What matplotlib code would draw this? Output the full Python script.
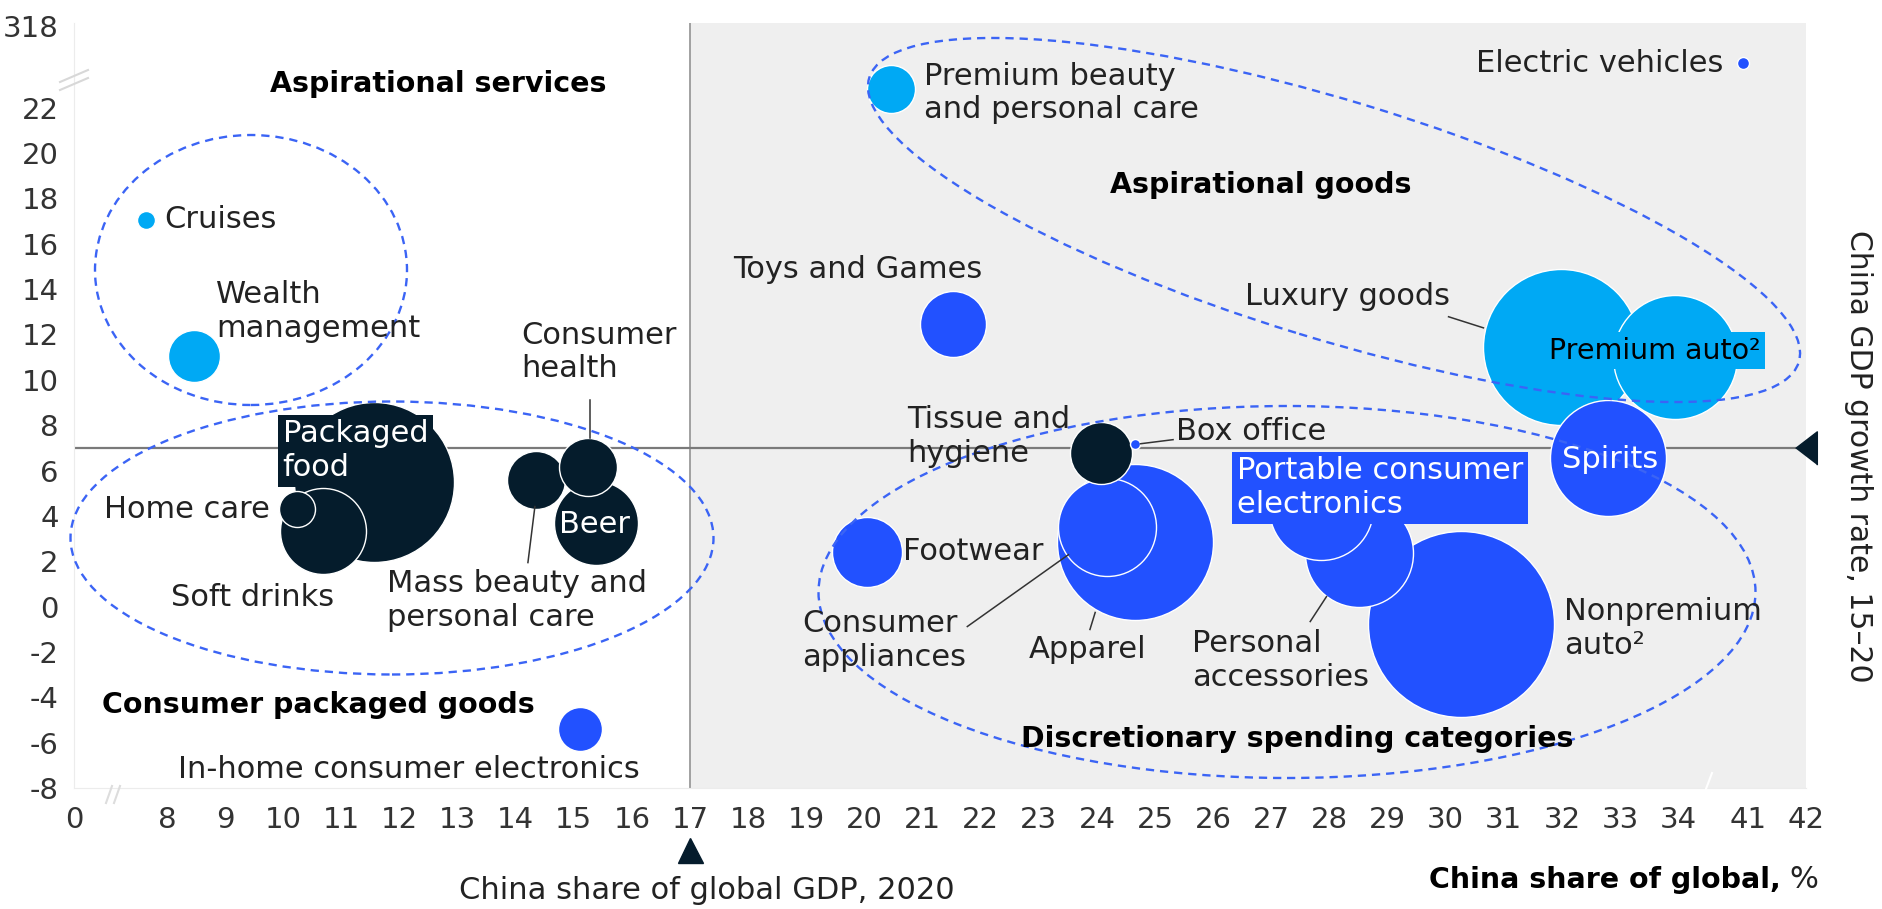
import matplotlib
matplotlib.use("Agg")
import matplotlib.pyplot as plt
import numpy as np
from matplotlib import transforms
from matplotlib.patches import Ellipse

NAVY, BLUE, CYAN = "#051c2c", "#2251ff", "#00a9f4"
TXT = "#222222"

# --- data (drawn in this order; later bubbles sit on top) ---
categories = ["Packaged food", "Soft drinks", "Home care", "Mass beauty and personal care",
              "Beer", "Consumer health", "Cruises", "Wealth management",
              "In-home consumer electronics", "Premium beauty and personal care",
              "Electric vehicles", "Toys and Games", "Luxury goods", "Premium auto",
              "Spirits", "Apparel", "Consumer appliances", "Tissue and hygiene",
              "Box office", "Footwear", "Nonpremium auto", "Personal accessories",
              "Portable consumer electronics"]
china_share = [11.56, 10.68, 10.24, 14.35, 15.38, 15.24, 7.64, 8.46, 15.11, 20.46,
               40.5, 21.53, 31.99, 33.94, 32.80, 24.66, 24.18, 24.07, 24.66, 20.05,
               30.27, 28.51, 27.86]
gdp_growth = [5.51, 3.35, 4.32, 5.59, 3.70, 6.17, 17.05, 11.06, -5.42, 22.82,
              108, 12.47, 11.45, 11.01, 6.56, 2.86, 3.52, 6.78, 7.18, 2.42,
              -0.79, 2.38, 4.36]
market_size = [80, 43, 18, 29, 42, 29, 9, 26, 22, 24, 6, 33, 78, 62, 58, 78, 49, 31,
               5, 35, 93, 54, 52]
segment = ["cpg", "cpg", "cpg", "cpg", "cpg", "cpg", "asp", "asp", "disc", "asp",
           "disc", "disc", "asp", "asp", "disc", "disc", "disc", "cpg", "disc", "disc",
           "disc", "disc", "disc"]
seg_color = {"cpg": NAVY, "asp": CYAN, "disc": BLUE}

xticks = [0] + list(range(8, 35)) + [41, 42]
yticks = list(range(-8, 23, 2)) + [318]
china_gdp_share = 17
china_gdp_growth = 7


def piecewise(src, dst):
    src = np.asarray(src, float)
    dst = np.asarray(dst, float)

    def f(v):
        v = np.asarray(v, float)
        out = np.interp(v, src, dst)
        lo_slope = (dst[1] - dst[0]) / (src[1] - src[0])
        hi_slope = (dst[-1] - dst[-2]) / (src[-1] - src[-2])
        out = np.where(v < src[0], dst[0] + (v - src[0]) * lo_slope, out)
        out = np.where(v > src[-1], dst[-1] + (v - src[-1]) * hi_slope, out)
        return out
    return f


# broken axes: 0..7 and 34..41 squeezed, 23..318 squeezed
X_SRC, X_DST = [0, 7, 34, 41, 42], [6.4, 7, 34, 35.2, 36.2]
Y_SRC, Y_DST = [-8, 23.3, 318], [-8, 23.3, 25.6]

FW, FH = 1883, 909
fig = plt.figure(figsize=(FW / 100, FH / 100), dpi=100)
L, B, W, H = 74 / FW, 1 - 788 / FH, 1732 / FW, 765 / FH
ax = fig.add_axes([L, B, W, H])
ax.set_xscale("function", functions=(piecewise(X_SRC, X_DST), piecewise(X_DST, X_SRC)))
ax.set_yscale("function", functions=(piecewise(Y_SRC, Y_DST), piecewise(Y_DST, Y_SRC)))
ax.set_xlim(0, 42)
ax.set_ylim(-8, 335)

# axes-pixel transform for decorations
apx = transforms.Affine2D().scale(1 / (W * FW), 1 / (H * FH)) + ax.transAxes

ax.axvspan(china_gdp_share, 42, color="#efefef", zorder=0, lw=0)
ax.axvline(china_gdp_share, color="#9a9a9a", lw=1.3, zorder=1)
ax.axhline(china_gdp_growth, color="#7a7a7a", lw=1.6, zorder=1)

for sp in ["top", "right"]:
    ax.spines[sp].set_visible(False)
for sp in ["left", "bottom"]:
    ax.spines[sp].set_color("#ececec")

sizes = [(2 * r * 0.72) ** 2 for r in market_size]
colors = [seg_color[s] for s in segment]
for i in range(len(categories)):
    ax.scatter(china_share[i], gdp_growth[i], s=sizes[i], color=colors[i],
               edgecolor="white", linewidth=1.0, zorder=3 + i * 0.01)

ax.set_xticks(xticks, labels=[str(t) for t in xticks])
ax.set_yticks(yticks, labels=[str(t) for t in yticks])
ax.tick_params(axis="both", length=0, labelsize=21, labelcolor="#333333")
ax.tick_params(axis="x", pad=13)
ax.tick_params(axis="y", pad=11)
ax.minorticks_off()

# group outlines (axes pixels)
for cx, cy, w, h, ang in [(177, 518, 312, 270, 0), (318, 250, 643, 273, 0),
                          (1260, 568, 972, 238, -17), (1213, 196, 937, 372, 0)]:
    ax.add_patch(Ellipse((cx, cy), w, h, angle=ang, transform=apx, fill=False,
                         ec="#3b64f5", lw=1.7, ls=(0, (3.5, 2.5)), zorder=6, clip_on=False))

FS, FSB = 22, 20.5
lab = dict(fontsize=FS, color=TXT, zorder=8)
ax.text(9.77, 23.04, "Aspirational services", fontsize=FSB, fontweight="bold", color="black", va="center", zorder=8)
ax.text(7.96, 17.05, "Cruises", va="center", **lab)
ax.text(8.84, 13.0, "Wealth\nmanagement", va="center", **lab)
ax.text(14.09, 11.23, "Consumer\nhealth", va="center", **lab)
ax.text(9.99, 6.87, "Packaged\nfood", va="center", fontsize=FS, color="white", zorder=8,
        bbox=dict(boxstyle="square,pad=0.15", fc=NAVY, ec="none"))
ax.text(9.77, 4.27, "Home care", ha="right", va="center", **lab)
ax.text(8.07, 0.40, "Soft drinks", va="center", **lab)
ax.text(11.78, 0.26, "Mass beauty and\npersonal care", va="center", **lab)
ax.text(15.35, 3.61, "Beer", ha="center", va="center", fontsize=FS, color="white", zorder=8)
ax.text(5.6, -4.32, "Consumer packaged goods", fontsize=FSB, fontweight="bold", color="black", va="center", zorder=8)
ax.text(8.19, -7.18, "In-home consumer electronics", va="center", **lab)
ax.text(21.03, 22.64, "Premium beauty\nand personal care", va="center", **lab)
ax.text(38.55, 108, "Electric vehicles", ha="right", va="center", **lab)
ax.text(24.23, 18.59, "Aspirational goods", fontsize=FSB, fontweight="bold", color="black", va="center", zorder=8)
ax.text(17.74, 14.85, "Toys and Games", va="center", **lab)
ax.text(26.54, 13.66, "Luxury goods", va="center", **lab)
ax.text(31.78, 11.28, "Premium auto²", va="center", fontsize=20.5, color="black", zorder=8,
        bbox=dict(boxstyle="square,pad=0.15", fc=CYAN, ec="none"))
ax.text(20.73, 7.49, "Tissue and\nhygiene", va="center", **lab)
ax.text(25.36, 7.71, "Box office", va="center", **lab)
ax.text(32.83, 6.48, "Spirits", ha="center", va="center", fontsize=FS, color="white", zorder=8)
ax.text(26.41, 5.24, "Portable consumer\nelectronics ", va="center", fontsize=FS, color="white", zorder=8,
        bbox=dict(boxstyle="square,pad=0.15", fc=BLUE, ec="none"))
ax.text(20.67, 2.42, "Footwear", va="center", **lab)
ax.text(18.93, -1.50, "Consumer\nappliances", va="center", **lab)
ax.text(22.82, -1.89, "Apparel", va="center", **lab)
ax.text(25.64, -2.38, "Personal\naccessories", va="center", **lab)
ax.text(32.04, -0.97, "Nonpremium\nauto²", va="center", **lab)
ax.text(22.70, -5.86, "Discretionary spending categories", fontsize=FSB, fontweight="bold", color="black", va="center", zorder=8)

# leader lines
for (x0, x1), (y0, y1) in [((15.28, 15.28), (9.12, 7.44)), ((14.21, 14.33), (1.94, 4.41)),
                           ((30.05, 30.65), (12.78, 12.29)), ((24.75, 25.31), (7.18, 7.36)),
                           ((21.77, 23.51), (-0.88, 2.29)), ((23.88, 23.97), (-1.01, -0.26)),
                           ((27.67, 27.95), (-0.66, 0.44))]:
    ax.plot([x0, x1], [y0, y1], color="#333333", lw=1.1, zorder=7)

# reference markers
xb = transforms.blended_transform_factory(ax.transData, ax.transAxes)
yb = transforms.blended_transform_factory(ax.transAxes, ax.transData)
ax.plot([china_gdp_share], [-0.081], marker="^", ms=18, color=NAVY, transform=xb, clip_on=False)
ax.plot([1.0], [china_gdp_growth], marker=[(-0.65, 0), (0.65, 1), (0.65, -1)], ms=24,
        color=NAVY, transform=yb, clip_on=False)
ax.text(17.28, -0.1346, "China share of global GDP, 2020", transform=xb, ha="center",
        va="center", fontsize=FS, color=TXT)
t_pct = ax.text(1.007, -0.12, "%", transform=ax.transAxes, ha="right", va="center",
                fontsize=FS, color=TXT)
ax.annotate("China share of global,", xy=(0, 0.5), xycoords=t_pct, xytext=(-6, 0),
            textcoords="offset points", ha="right", va="center", fontsize=FSB,
            fontweight="bold", color="black")
ax.text(1.0306, 0.434, "China GDP growth rate, 15–20", transform=ax.transAxes,
        rotation=270, ha="center", va="center", fontsize=21.5, color=TXT)

# axis break marks
for (x0, y0, x1, y1, c) in [(-14, 698, 14, 710, "#d8d8d8"), (-14, 706, 14, 718, "#d8d8d8"),
                            (32, -15, 38, 2, "#dddddd"), (40, -15, 46, 2, "#dddddd"),
                            (1638, 15, 1627, -14, "white")]:
    ax.plot([x0, x1], [y0, y1], color=c, lw=1.5, transform=apx, clip_on=False, zorder=9)

fig.savefig("out.png", dpi=100)
